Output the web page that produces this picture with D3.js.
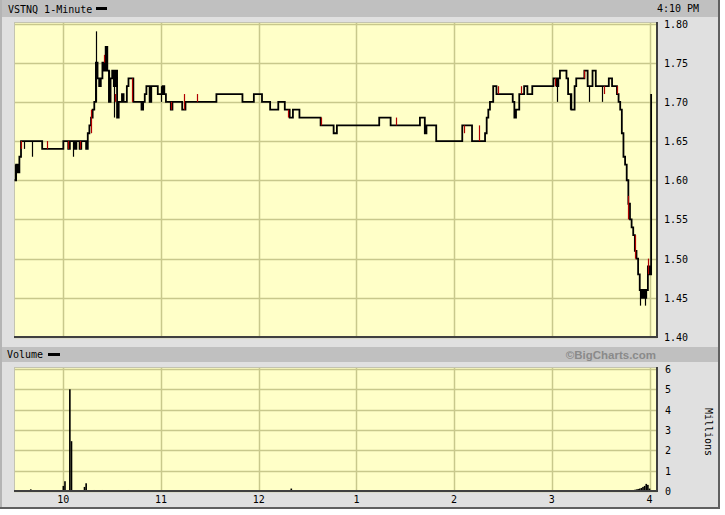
<!DOCTYPE html>
<html><head><meta charset="utf-8">
<script src="https://cdn.jsdelivr.net/npm/d3@7"></script>
<style>body{margin:0;background:#fff}svg{display:block}</style>
</head><body><svg id="c" width="725" height="515"></svg>
<script>
// ---- data (minutes after the 9:30 open) ----
const symbolTitle = "VSTNQ 1-Minute";
const stampText = "4:10 PM";
const hourTickMinute = [30, 90, 150, 210, 270, 330, 390];
const hourTickLabel = ["10", "11", "12", "1", "2", "3", "4"];
const priceTicks = [1.40, 1.45, 1.50, 1.55, 1.60, 1.65, 1.70, 1.75, 1.80];
const volumeTicks = [0, 1, 2, 3, 4, 5, 6];

const priceMinute = [0,1,2,3,4,17,30,33,34,37,38,40,41,44,45,46,47,48,49,50,51,52,53,54,55,56,57,58,59,60,61,62,63,64,66,67,69,70,73,78,79,80,81,83,84,88,91,92,93,96,97,103,105,124,140,147,152,157,162,166,169,171,175,188,196,198,224,231,249,252,253,259,275,281,289,290,291,292,294,296,306,307,308,310,313,315,318,331,333,334,335,339,340,342,344,345,350,352,355,357,365,367,370,371,372,373,374,375,376,377,378,379,380,381,382,383,384,385,386,387,388,389,390,391];
const priceClose = [1.60,1.62,1.61,1.63,1.65,1.64,1.65,1.64,1.65,1.64,1.65,1.64,1.65,1.64,1.66,1.67,1.68,1.69,1.70,1.75,1.73,1.72,1.73,1.75,1.74,1.77,1.74,1.70,1.73,1.74,1.72,1.74,1.68,1.70,1.71,1.70,1.72,1.73,1.70,1.69,1.70,1.71,1.72,1.70,1.72,1.71,1.72,1.71,1.70,1.69,1.70,1.69,1.70,1.71,1.70,1.71,1.70,1.69,1.70,1.69,1.68,1.69,1.68,1.67,1.66,1.67,1.68,1.67,1.68,1.66,1.67,1.65,1.67,1.65,1.66,1.68,1.69,1.70,1.72,1.71,1.70,1.68,1.69,1.71,1.72,1.71,1.72,1.73,1.72,1.73,1.74,1.73,1.71,1.69,1.72,1.73,1.74,1.72,1.74,1.72,1.73,1.72,1.71,1.70,1.69,1.66,1.63,1.62,1.60,1.57,1.55,1.54,1.53,1.51,1.50,1.48,1.46,1.45,1.46,1.45,1.46,1.49,1.48,1.71];

// high-low ticks
const blackTickMinute = [0,6,11,36,44,50,56,58,61,63,90,333,341,353,361,384,387];
const blackTickLow    = [1.60,1.64,1.63,1.63,1.64,1.70,1.74,1.70,1.68,1.68,1.70,1.70,1.69,1.70,1.70,1.44,1.44];
const blackTickHigh   = [1.62,1.65,1.65,1.65,1.65,1.79,1.77,1.74,1.74,1.70,1.72,1.73,1.71,1.72,1.72,1.46,1.46];
const redTickMinute = [4,20,33,40,47,55,62,72,96,104,112,168,188,234,276,285,297,311,332,350,362,370,377,381,389];
const redTickLow    = [1.64,1.64,1.64,1.64,1.66,1.75,1.70,1.70,1.69,1.69,1.70,1.68,1.67,1.67,1.66,1.65,1.71,1.71,1.72,1.73,1.71,1.71,1.55,1.50,1.48];
const redTickHigh   = [1.65,1.65,1.65,1.65,1.69,1.76,1.71,1.73,1.70,1.71,1.71,1.69,1.68,1.68,1.67,1.67,1.72,1.72,1.73,1.74,1.72,1.72,1.58,1.53,1.50];

const volMinute   = [10,30,31,34,35,43,44,49,54,70,170,210,362,380,381,382,383,384,385,386,387,388,389,390];
const volMillions = [0.08,0.25,0.48,5.0,2.45,0.2,0.38,0.05,0.05,0.05,0.12,0.05,0.04,0.05,0.06,0.08,0.1,0.12,0.15,0.2,0.25,0.35,0.3,0.12];

// ---- drawing ----
const svg = d3.select("#c");
const mono = "'DejaVu Sans Mono', monospace";
const gridC = "#c8c88c", plotBg = "#ffffc8";

svg.append("rect").attr("width", 725).attr("height", 515).attr("fill", "#fff");
svg.append("rect").attr("x", 0).attr("y", 0).attr("width", 720).attr("height", 509).attr("fill", "#e0e0e0");
svg.append("rect").attr("x", 0).attr("y", 0).attr("width", 2).attr("height", 509).attr("fill", "#b4b4b4");
svg.append("rect").attr("x", 718).attr("y", 0).attr("width", 2).attr("height", 509).attr("fill", "#606060");
svg.append("rect").attr("x", 0).attr("y", 507).attr("width", 720).attr("height", 2).attr("fill", "#606060");

// header bars
svg.append("rect").attr("x", 2).attr("y", 0).attr("width", 716).attr("height", 17).attr("fill", "#c0c0c0");
svg.append("rect").attr("x", 2).attr("y", 347).attr("width", 716).attr("height", 15).attr("fill", "#c0c0c0");
svg.append("text").attr("x", 8).attr("y", 13).attr("font-family", mono).attr("font-size", 10).text(symbolTitle);
svg.append("rect").attr("x", 96).attr("y", 7).attr("width", 11).attr("height", 3).attr("fill", "#000");
svg.append("text").attr("x", 657).attr("y", 12).attr("font-family", mono).attr("font-size", 10).text(stampText);
svg.append("text").attr("x", 7).attr("y", 358).attr("font-family", mono).attr("font-size", 10).text("Volume");
svg.append("rect").attr("x", 48).attr("y", 353).attr("width", 12).attr("height", 3).attr("fill", "#000");
svg.append("text").attr("x", 656).attr("y", 359).attr("text-anchor", "end")
  .attr("font-family", "'Liberation Sans', Arial, sans-serif").attr("font-weight", "bold")
  .attr("font-size", 11.5).attr("fill", "#8a8a8a").text("©BigCharts.com");

const L = 14, R = 657;
const x = d3.scaleLinear().domain([0, 394.6]).range([14.5, 657]);
const yP = d3.scaleLinear().domain([1.40, 1.80]).range([337, 23.5]);
const yV = d3.scaleLinear().domain([0, 6]).range([491, 369]);

function panel(top, bottom, y, ticks) {
  const g = svg.append("g");
  g.append("rect").attr("x", L).attr("y", top).attr("width", R - L).attr("height", bottom - top).attr("fill", plotBg);
  g.selectAll(".h").data(ticks).join("line")
    .attr("x1", L).attr("x2", R).attr("y1", d => Math.round(y(d)) + 0.5).attr("y2", d => Math.round(y(d)) + 0.5)
    .attr("stroke", gridC).attr("stroke-width", 1.5);
  g.selectAll(".v").data(hourTickMinute).join("line")
    .attr("x1", d => Math.round(x(d)) + 0.5).attr("x2", d => Math.round(x(d)) + 0.5).attr("y1", top).attr("y2", bottom)
    .attr("stroke", gridC).attr("stroke-width", 1.5);
  g.append("line").attr("x1", L).attr("x2", R).attr("y1", top + 0.5).attr("y2", top + 0.5).attr("stroke", "#c4c4b0");
  g.append("line").attr("x1", L + 0.5).attr("x2", L + 0.5).attr("y1", top).attr("y2", bottom).attr("stroke", "#c4c4b0");
  return g;
}
panel(22, 337, yP, priceTicks);
panel(367, 491, yV, volumeTicks);

// price axis labels
svg.append("g").selectAll("text").data(priceTicks).join("text")
  .attr("x", 664).attr("y", d => yP(d) + 4).attr("font-family", mono).attr("font-size", 10)
  .text(d => d.toFixed(2));
// volume axis labels
svg.append("g").selectAll("text").data(volumeTicks).join("text")
  .attr("x", 665).attr("y", d => yV(d) + 4).attr("font-family", mono).attr("font-size", 10)
  .text(d => d);
svg.append("text").attr("transform", "translate(705,432) rotate(90)").attr("text-anchor", "middle")
  .attr("font-family", mono).attr("font-size", 10).text("Millions");
// time labels
svg.append("g").selectAll("text").data(hourTickMinute).join("text")
  .attr("x", d => x(d)).attr("y", 503).attr("text-anchor", "middle").attr("font-family", mono).attr("font-size", 10)
  .text((d, i) => hourTickLabel[i]);

// price ticks
const clipP = svg.append("g");
clipP.selectAll(".bt").data(blackTickMinute).join("line")
  .attr("x1", d => Math.round(x(d)) + 0.5).attr("x2", d => Math.round(x(d)) + 0.5)
  .attr("y1", (d, i) => yP(blackTickLow[i])).attr("y2", (d, i) => yP(blackTickHigh[i]))
  .attr("stroke", "#000").attr("stroke-width", 1.2);
// price line
const pts = priceMinute.map((m, i) => [m, priceClose[i]]);
clipP.append("path").datum(pts)
  .attr("d", d3.line().x(d => x(d[0])).y(d => yP(d[1])).curve(d3.curveStepAfter))
  .attr("fill", "none").attr("stroke", "#000").attr("stroke-width", 1.8);
clipP.selectAll(".rt").data(redTickMinute).join("line")
  .attr("x1", d => Math.round(x(d)) + 0.5).attr("x2", d => Math.round(x(d)) + 0.5)
  .attr("y1", (d, i) => yP(redTickLow[i])).attr("y2", (d, i) => yP(redTickHigh[i]))
  .attr("stroke", "#b00000").attr("stroke-width", 1.2);

// volume bars
const bw = x(1) - x(0);
svg.append("g").selectAll("rect").data(volMinute).join("rect")
  .attr("x", d => x(d) - bw / 2).attr("width", bw)
  .attr("y", (d, i) => yV(volMillions[i])).attr("height", (d, i) => yV(0) - yV(volMillions[i]))
  .attr("fill", "#000");

// plot frames (dark right/bottom)
[[22, 337], [367, 491]].forEach(([t, b]) => {
  svg.append("line").attr("x1", L).attr("x2", R + 1).attr("y1", b).attr("y2", b).attr("stroke", "#404040").attr("stroke-width", 2);
  svg.append("line").attr("x1", R).attr("x2", R).attr("y1", t).attr("y2", b).attr("stroke", "#404040").attr("stroke-width", 2);
});
</script>
</body></html>
